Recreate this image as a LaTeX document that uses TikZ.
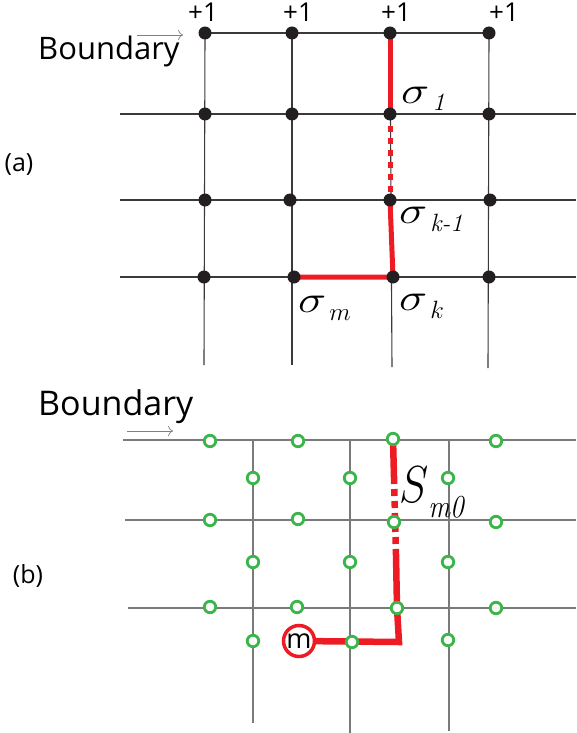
\RequirePackage{fix-cm}
\documentclass[tikz,border=0pt]{standalone}
\usepackage{graphicx}
\usepackage{fontspec}
\newfontfamily\labelfont{Open Sans}
\usetikzlibrary{backgrounds, arrows.meta}
\definecolor{dotblack}{HTML}{231F20}
\definecolor{gridgray}{HTML}{3A3A3A}
\definecolor{gridlight}{HTML}{7A7A7A}
\definecolor{pathred}{HTML}{ED1C24}
\definecolor{sitegreen}{HTML}{39B54A}

\newcommand{\spinlbl}[1]{\scalebox{1.25}[1]{\fontsize{38}{38}\selectfont$\sigma$}\hspace{3pt}\raisebox{-8pt}{\fontsize{25}{25}\selectfont#1}}

\begin{document}
\begin{tikzpicture}[
    x=1pt, y=-1pt,
    dot/.style={circle, fill=dotblack, inner sep=0pt, minimum size=13pt},
    site/.style={circle, draw=sitegreen, line width=2.8pt, fill=white, inner sep=0pt, minimum size=11.5pt},
    charge/.style={circle, draw=pathred, line width=3.5pt, fill=white, inner sep=0pt, minimum size=31pt, font=\labelfont\fontsize{27}{27}\selectfont},
    gridA/.style={draw=gridgray, line width=1.1pt},
    gridB/.style={draw=gridlight, line width=1.3pt},
    redpath/.style={draw=pathred, line width=5pt},
    boundtext/.style={inner sep=0pt, anchor=base west},
    spin/.style={inner sep=0pt, anchor=base west},
    plusone/.style={inner sep=0pt, anchor=base, font=\labelfont\fontsize{26}{26}\selectfont},
    tag/.style={inner sep=0pt, font=\labelfont\fontsize{25}{25}\selectfont},
    boundarrow/.style={-{To[length=5pt]}, draw=gray, line width=0.7pt}
]
\useasboundingbox (0,0) rectangle (576,733);

% ==================== PART (a): SPIN LATTICE ====================
\node[dot] (a11) at (205,33) {};  \node[dot] (a12) at (292,33) {};  \node[dot] (a13) at (390,33) {};  \node[dot] (a14) at (489,33) {};
\node[dot] (a21) at (205,114) {}; \node[dot] (a22) at (292,114) {}; \node[dot] (a23) at (390,114) {}; \node[dot] (a24) at (489,114) {};
\node[dot] (a31) at (205,200) {}; \node[dot] (a32) at (290,200) {}; \node[dot] (a33) at (390,200) {}; \node[dot] (a34) at (490,200) {};
\node[dot] (a41) at (204,277) {}; \node[dot] (a42) at (294,277) {}; \node[dot] (a43) at (393,277) {}; \node[dot] (a44) at (489,277) {};

% free ends of the lattice lines
\coordinate (aL2) at (120,114); \coordinate (aR2) at (576,114);
\coordinate (aL3) at (120,200); \coordinate (aR3) at (576,200);
\coordinate (aL4) at (120,277); \coordinate (aR4) at (576,277);
\coordinate (aB1) at (204,365); \coordinate (aB2) at (292,365);
\coordinate (aB3) at (392,367); \coordinate (aB4) at (488,368);

% boundary values
\node[plusone] (p1) at (203,22) {+1};
\node[plusone] (p2) at (298,22) {+1};
\node[plusone] (p3) at (396,22) {+1};
\node[plusone] (p4) at (504,22) {+1};

\node[boundtext, font=\labelfont\fontsize{31}{31}\selectfont] (bounda) at (38,60) {Boundary};
\coordinate (arrAs) at (137,35); \coordinate (arrAe) at (183,35);
\draw[boundarrow] (arrAs) -- (arrAe);
\node[tag] (taga) at (19,165) {(a)};

% spin labels
\node[spin] (s1) at (401,103) {\spinlbl{\textit{1}}};
\node[spin] (sk1) at (399,223) {\spinlbl{\textit{k-1}}};
\node[spin] (sm) at (298,312) {\spinlbl{$m$}};
\node[spin] (sk) at (399,310) {\spinlbl{$k$}};

\begin{scope}[on background layer]
\draw[gridA] (a11.center) -- (a14.center);
\draw[gridA] (aL2) -- (aR2);
\draw[gridA] (aL3) -- (aR3);
\draw[gridA] (aL4) -- (aR4);
\draw[gridA] (a11.center) -- (aB1);
\draw[gridA] (a12.center) -- (aB2);
\draw[gridA] (a13.center) -- (aB3);
\draw[gridA] (a14.center) -- (aB4);
% red string
\draw[redpath] (a13.center) -- (a23.center);
\draw[redpath, dash pattern=on 6pt off 6pt] (a23.center) -- (a33.center);
\draw[redpath, line join=miter] (a33.center) -- (a43.center) -- (a42.center);
\end{scope}

% ==================== PART (b): DUAL LATTICE ====================
\node[site] (b11) at (210,441) {}; \node[site] (b12) at (298,441) {}; \node[site] (b13) at (393,439) {}; \node[site] (b14) at (496,441) {};
\node[site] (b21) at (253,478) {}; \node[site] (b22) at (350,478) {}; \node[site] (b23) at (448,478) {};
\node[site] (b31) at (210,520) {}; \node[site] (b32) at (298,519) {}; \node[site] (b33) at (394,522) {}; \node[site] (b34) at (496,522) {};
\node[site] (b41) at (253,562) {}; \node[site] (b42) at (350,562) {}; \node[site] (b43) at (448,562) {};
\node[site] (b51) at (210,607) {}; \node[site] (b52) at (297,607) {}; \node[site] (b53) at (397,608) {}; \node[site] (b54) at (496,608) {};
\node[site] (b61) at (253,641) {}; \node[site] (b62) at (352,642) {}; \node[site] (b63) at (448,640) {};
\node[charge] (bm) at (299,641) {m};

% free ends of the lattice lines
\coordinate (bL1) at (123,440); \coordinate (bR1) at (576,440);
\coordinate (bL2) at (125,520); \coordinate (bR2) at (576,520);
\coordinate (bL3) at (128,608); \coordinate (bR3) at (576,608);
\coordinate (bT1) at (253,440); \coordinate (bB1) at (253,723);
\coordinate (bT2) at (350,440); \coordinate (bB2) at (350,733);
\coordinate (bT3) at (449,440); \coordinate (bB3) at (449,731);
\coordinate (bd1) at (394,477); \coordinate (bd2) at (396,555);
\coordinate (bturn) at (399,642);

\node[boundtext, font=\labelfont\fontsize{34}{34}\selectfont] (boundb) at (38,415) {Boundary};
\coordinate (arrBs) at (127,431); \coordinate (arrBe) at (173,431);
\draw[boundarrow] (arrBs) -- (arrBe);
\node[tag] (tagb) at (28,576) {(b)};

\node[spin] (smz) at (399,502) {\scalebox{0.85}[1]{\fontsize{52}{52}\selectfont$S$}\raisebox{-15pt}{\scalebox{0.85}[1]{\fontsize{32}{32}\selectfont\textit{m0}}}};

\begin{scope}[on background layer]
\draw[gridB] (bL1) -- (bR1);
\draw[gridB] (bL2) -- (bR2);
\draw[gridB] (bL3) -- (bR3);
\draw[gridB] (bT1) -- (bB1);
\draw[gridB] (bT2) -- (bB2);
\draw[gridB] (bT3) -- (bB3);
% red string
\draw[redpath, line width=6.5pt] (b13.center) -- (bd1);
\draw[redpath, line width=6.5pt, dash pattern=on 7pt off 5pt] (bd1) -- (bd2);
\draw[redpath, line width=6.5pt, line join=miter] (bd2) -- (b53.center) -- (bturn) -- (bm.center);
\end{scope}

\end{tikzpicture}
\end{document}
